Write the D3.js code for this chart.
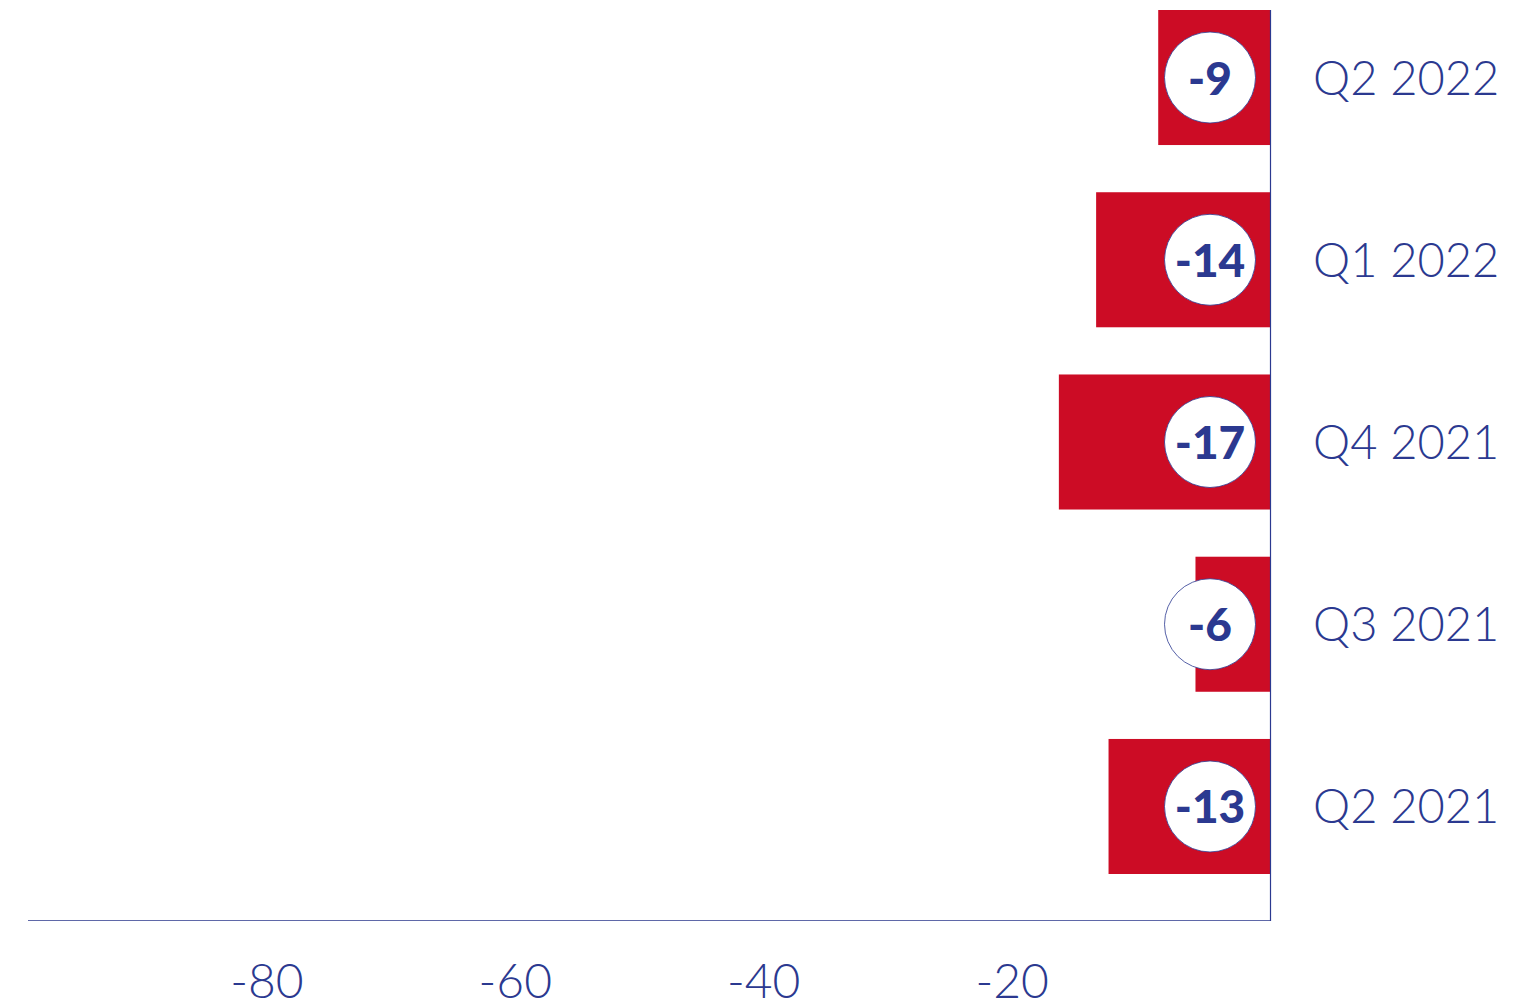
<!DOCTYPE html>
<html><head><meta charset="utf-8">
<script src="https://cdn.jsdelivr.net/npm/d3@7"></script>
<style>
html,body{margin:0;padding:0;background:#fff;}
svg{display:block;}
</style></head>
<body>
<script>
const categories = ["Q2 2022","Q1 2022","Q4 2021","Q3 2021","Q2 2021"];
const values = [-9,-14,-17,-6,-13];
const tickValues = [-80,-60,-40,-20];

const W = 1516, H = 1008;
const RED = "#cc0c25", NAVY = "#2b3990";
const svg = d3.select("body").append("svg").attr("width",W).attr("height",H);

const x = d3.scaleLinear().domain([-100,0]).range([28,1270]);
const y = d3.scaleBand().domain(categories).range([10,874]).paddingInner(0.259).paddingOuter(0);

// bars
svg.selectAll("rect.bar").data(values).join("rect")
  .attr("class","bar")
  .attr("x", d=>x(d)).attr("width", d=>x(0)-x(d))
  .attr("y", (d,i)=>y(categories[i])).attr("height", y.bandwidth())
  .attr("fill", RED);

// axes lines
svg.append("line").attr("x1",x(-100)).attr("x2",x(0)).attr("y1",920.5).attr("y2",920.5)
  .attr("stroke","#5f68a8").attr("stroke-width",1);
svg.append("line").attr("x1",x(0)+0.5).attr("x2",x(0)+0.5).attr("y1",10).attr("y2",921)
  .attr("stroke",NAVY).attr("stroke-width",1.2);

// x tick labels
const xAxis = d3.axisBottom(x).tickValues(tickValues).tickSize(0).tickPadding(0).tickFormat(d=>String(d).replace("\u2212","-"));
const gx = svg.append("g").attr("transform","translate(0,920)").call(xAxis);
gx.select(".domain").remove();
gx.selectAll("text").attr("y",78).attr("dy",null)
  .attr("fill",NAVY).attr("font-family","Lato, 'Open Sans', sans-serif")
  .attr("font-weight",300).attr("font-size",48).attr("text-anchor","middle")
  .attr("transform","translate(-10,0)");

// circles + value labels
const g = svg.selectAll("g.lab").data(values).join("g").attr("class","lab")
  .attr("transform",(d,i)=>`translate(${x(0)-60},${y(categories[i])+y.bandwidth()/2})`);
g.append("circle").attr("r",45.5).attr("fill","#fff").attr("stroke",NAVY).attr("stroke-width",0.8);
g.append("text").text(d=>String(d)).attr("text-anchor","middle").attr("y",17)
  .attr("fill",NAVY).attr("font-family","Lato, 'Open Sans', sans-serif")
  .attr("font-weight",900).attr("font-size",46);

// category labels
svg.selectAll("text.cat").data(categories).join("text").attr("class","cat")
  .attr("x",1313).attr("y",d=>y(d)+y.bandwidth()/2+17)
  .text(d=>d).attr("fill",NAVY).attr("font-family","Lato, 'Open Sans', sans-serif")
  .attr("font-weight",300).attr("font-size",47);
</script>
</body></html>
